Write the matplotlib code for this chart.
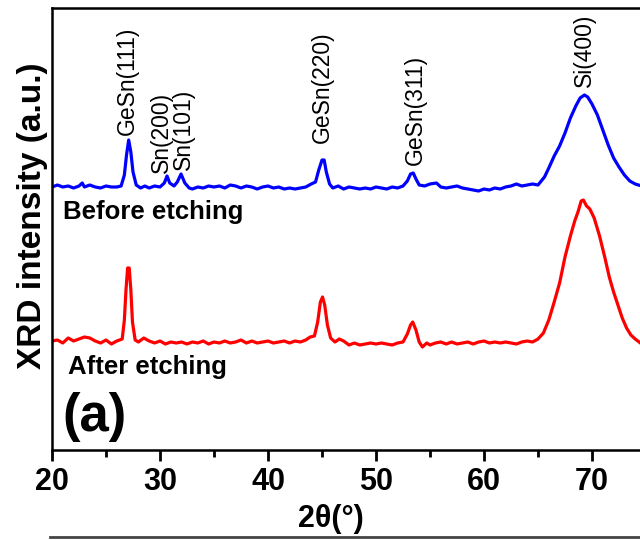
import matplotlib
matplotlib.use("Agg")
import matplotlib.pyplot as plt
from matplotlib.lines import Line2D

plt.rcParams['font.family'] = ['Liberation Sans', 'DejaVu Sans']

# 2theta (deg) and intensity (a.u., already offset for stacking)
two_theta_before = [20.0, 20.5, 21.0, 21.5, 22.0, 22.5, 22.8, 23.0, 23.5, 24.0, 24.5, 25.0, 25.5, 26.0,
                    26.4, 26.7, 26.9, 27.1, 27.3, 27.5, 27.8, 28.2, 28.6, 29.0, 29.5, 30.0, 30.4,
                    30.65, 30.9, 31.3, 31.6, 31.95, 32.3, 32.7, 33.0, 33.5, 34.0, 34.5, 35.0, 35.5,
                    36.0, 36.5, 37.0, 37.5, 38.0, 38.5, 39.0, 39.5, 40.0, 40.5, 41.0, 41.5, 42.0,
                    42.5, 43.0, 43.5, 44.0, 44.4, 44.7, 45.0, 45.2, 45.4, 45.7, 46.0, 46.5, 47.0,
                    47.5, 48.0, 48.5, 49.0, 49.5, 50.0, 50.5, 51.0, 51.5, 52.0, 52.5, 52.9, 53.2,
                    53.45, 53.7, 54.0, 54.5, 55.0, 55.6, 56.0, 56.5, 57.0, 57.5, 58.0, 58.5, 59.0,
                    59.5, 60.0, 60.5, 61.0, 61.5, 62.0, 62.5, 63.0, 63.5, 64.0, 64.5, 65.0, 65.3,
                    65.6, 66.0, 66.5, 67.0, 67.5, 68.0, 68.5, 68.9, 69.3, 69.6, 70.0, 70.5, 71.0,
                    71.5, 72.0, 72.5, 73.0, 73.5, 74.0, 74.6]
intensity_before = [263, 265, 263, 264, 262, 264, 267, 263, 265, 263, 262, 264, 263, 263,
                    264, 275, 295, 310, 298, 278, 265, 262, 264, 262, 264, 263, 267,
                    274, 267, 264, 268, 276, 267, 262, 261, 263, 262, 264, 263, 264,
                    262, 265, 264, 262, 264, 263, 261, 263, 264, 262, 263, 261, 262,
                    261, 262, 263, 266, 268, 280, 290, 290, 278, 266, 262, 264, 261,
                    263, 262, 261, 262, 261, 263, 262, 261, 263, 262, 264, 269, 276,
                    277, 271, 265, 264, 266, 267, 263, 262, 263, 264, 262, 261, 260,
                    259, 261, 260, 262, 261, 263, 264, 266, 264, 265, 266, 265, 269,
                    273, 282, 294, 304, 317, 332, 344, 352, 355, 353, 346, 335, 320,
                    305, 292, 283, 275, 269, 266, 264]

two_theta_after = [20.0, 20.5, 21.0, 21.5, 22.0, 22.5, 23.0, 23.5, 24.0, 24.5, 25.0, 25.5, 26.0,
                   26.5, 26.7, 26.85, 27.0, 27.15, 27.3, 27.45, 27.7, 28.0, 28.5, 29.0, 29.5,
                   30.0, 30.5, 31.0, 31.5, 32.0, 32.5, 33.0, 33.5, 34.0, 34.5, 35.0, 35.5, 36.0,
                   36.5, 37.0, 37.5, 38.0, 38.5, 39.0, 39.5, 40.0, 40.5, 41.0, 41.5, 42.0, 42.5,
                   43.0, 43.5, 43.9, 44.3, 44.6, 44.85, 45.05, 45.25, 45.5, 45.8, 46.2, 46.6,
                   47.0, 47.5, 48.0, 48.5, 49.0, 49.5, 50.0, 50.5, 51.0, 51.5, 52.0, 52.5, 52.9,
                   53.2, 53.4, 53.7, 54.0, 54.3, 54.7, 55.0, 55.5, 56.0, 56.5, 57.0, 57.5, 58.0,
                   58.5, 59.0, 59.5, 60.0, 60.5, 61.0, 61.5, 62.0, 62.5, 63.0, 63.5, 64.0, 64.5,
                   65.0, 65.5, 66.0, 66.5, 67.0, 67.5, 68.0, 68.4, 68.7, 69.0, 69.2, 69.5, 69.8,
                   70.2, 70.7, 71.2, 71.6, 72.0, 72.4, 72.8, 73.2, 73.6, 74.0, 74.6]
intensity_after = [109, 110, 107, 112, 109, 111, 113, 112, 109, 107, 110, 106, 109,
                   111, 130, 160, 182, 182, 160, 128, 110, 108, 112, 109, 107,
                   109, 106, 108, 107, 108, 106, 108, 107, 109, 106, 108, 107, 109,
                   107, 108, 110, 107, 109, 107, 108, 109, 107, 108, 109, 107, 109,
                   108, 110, 113, 114, 128, 148, 153, 145, 125, 112, 108, 111,
                   109, 105, 107, 105, 106, 107, 106, 107, 106, 105, 107, 108, 116,
                   125, 128, 120, 108, 103, 107, 105, 107, 108, 106, 108, 106, 107,
                   108, 106, 108, 109, 107, 108, 107, 108, 107, 106, 108, 109, 108,
                   111, 117, 130, 148, 167, 193, 214, 229, 238, 249, 250, 244, 241,
                   232, 214, 192, 173, 158, 145, 132, 122, 115, 111, 106]

peak_names = ['GeSn(111)', 'Sn(200)', 'Sn(101)', 'GeSn(220)', 'GeSn(311)', 'Si(400)']
peak_pos = [27.0, 30.15, 32.2, 45.0, 53.6, 69.35]
label_base = [315, 277, 280, 307, 285, 363]

fig = plt.figure(figsize=(6.4, 5.4), dpi=100)
ax = fig.add_axes([52/640, 90/540, 648/640, 442/540])

ax.plot(two_theta_before, intensity_before, color='#0000ff', lw=2.3)
ax.plot(two_theta_after, intensity_after, color='#ff0000', lw=2.3)

for name, x, y in zip(peak_names, peak_pos, label_base):
    ax.text(x, y, name, rotation=90, ha='center', va='bottom', fontsize=16.5)

ax.text(21.0, 238, 'Before etching', fontsize=18.5, fontweight='bold', va='center')
ax.text(21.5, 83, 'After etching', fontsize=18.5, fontweight='bold', va='center')
ax.text(21.0, 33, '(a)', fontsize=38, fontweight='bold', va='center')

ax.set_xlim(20, 80)
ax.set_ylim(0, 442)
ax.set_xticks([20, 30, 40, 50, 60, 70])
ax.set_xticks([25, 35, 45, 55, 65, 75], minor=True)
ax.set_yticks([])
ax.tick_params(axis='x', which='major', length=8, width=2, labelsize=22, pad=4)
ax.tick_params(axis='x', which='minor', length=5, width=2)
for lab in ax.get_xticklabels():
    lab.set_fontweight('bold')
for s in ['left', 'bottom', 'top', 'right']:
    ax.spines[s].set_linewidth(1.8)

ax.set_xlabel(u'2\u03b8(\u00b0)', fontsize=22, fontweight='bold')
ax.xaxis.set_label_coords(0.43, -0.122)
ax.set_ylabel('XRD intensity (a.u.)', fontsize=24, fontweight='bold')
ax.yaxis.set_label_coords(-0.006, 0.53)

# top edge of the next panel, cut off at the bottom
fig.add_artist(Line2D([50/640, 1.0], [3/540, 3/540], color='#444444', lw=2))

fig.savefig('out.png', dpi=100)
